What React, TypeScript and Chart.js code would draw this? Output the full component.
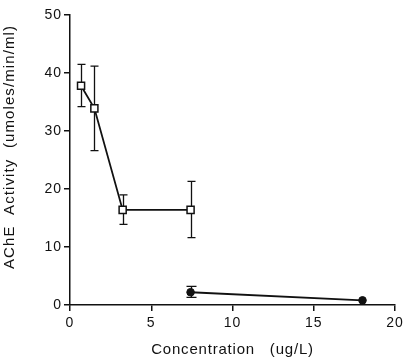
import React, { useEffect, useRef } from "react";
import { Chart, registerables } from "chart.js";

Chart.register(...registerables);

const xTicks = [0, 5, 10, 15, 20];
const yTicks = [0, 10, 20, 30, 40, 50];

const squareX = [0.68, 1.5, 3.24, 7.42];
const squareY = [37.8, 33.9, 16.4, 16.4];
const squareLow = [34.2, 26.6, 13.9, 11.6];
const squareHigh = [41.5, 41.2, 19.0, 21.3];

const circleX = [7.42, 18.0];
const circleY = [2.2, 0.8];
const circleLow = [1.3, null];
const circleHigh = [3.2, null];

const xTitle = "Concentration   (ug/L)";
const yTitle = "AChE  Activity  (umoles/min/ml)";

const FONT = "'Liberation Sans', Arial, Helvetica, sans-serif";

const errorBarPlugin = {
  id: "errorBars",
  beforeDraw(chart: any) {
    chart.ctx.letterSpacing = "1px";
  },
  beforeDatasetsDraw(chart: any) {
    const ctx = chart.ctx;
    const xs = chart.scales.x;
    const ys = chart.scales.y;
    chart.data.datasets.forEach((ds: any) => {
      const lows = ds.errLow || [];
      const highs = ds.errHigh || [];
      ds.data.forEach((p: any, i: number) => {
        const lo = lows[i];
        const hi = highs[i];
        if (lo == null || hi == null) return;
        const px = Math.round(xs.getPixelForValue(p.x)) + 0.5;
        const y1 = ys.getPixelForValue(lo);
        const y2 = ys.getPixelForValue(hi);
        const cap = ds.capWidth || 4;
        ctx.save();
        ctx.strokeStyle = "#111";
        ctx.lineWidth = 1.3;
        ctx.beginPath();
        ctx.moveTo(px, y1);
        ctx.lineTo(px, y2);
        ctx.moveTo(px - cap, y1);
        ctx.lineTo(px + cap, y1);
        ctx.moveTo(px - cap, y2);
        ctx.lineTo(px + cap, y2);
        ctx.stroke();
        ctx.restore();
      });
    });
  },
  afterDraw(chart: any) {
    const ctx = chart.ctx;
    const area = chart.chartArea;
    ctx.save();
    ctx.fillStyle = "#111";
    ctx.font = `15px ${FONT}`;
    ctx.letterSpacing = "0.8px";
    ctx.textAlign = "center";
    ctx.textBaseline = "middle";
    ctx.fillText(xTitle, (area.left + area.right) / 2, 350);
    ctx.letterSpacing = "1.1px";
    ctx.translate(10, 147);
    ctx.rotate(-Math.PI / 2);
    ctx.fillText(yTitle, 0, 0);
    ctx.restore();
  },
};

export default function App() {
  const ref = useRef<HTMLCanvasElement>(null);
  useEffect(() => {
    if (!ref.current) return;
    const chart = new Chart(ref.current, {
      type: "scatter",
      data: {
        datasets: [
          {
            label: "open",
            data: squareX.map((x, i) => ({ x, y: squareY[i] })),
            showLine: true,
            borderColor: "#111",
            borderWidth: 1.8,
            pointStyle: "rect",
            pointRadius: 5,
            pointBackgroundColor: "#fff",
            pointBorderColor: "#111",
            pointBorderWidth: 1.5,
            errLow: squareLow,
            errHigh: squareHigh,
            capWidth: 4,
          } as any,
          {
            label: "filled",
            data: circleX.map((x, i) => ({ x, y: circleY[i] })),
            showLine: true,
            borderColor: "#111",
            borderWidth: 1.8,
            pointStyle: "circle",
            pointRadius: 3.8,
            pointBackgroundColor: "#111",
            pointBorderColor: "#111",
            pointBorderWidth: 1,
            errLow: circleLow,
            errHigh: circleHigh,
            capWidth: 5,
          } as any,
        ],
      },
      options: {
        animation: false,
        responsive: false,
        layout: { padding: { top: 15, right: 9, left: 0, bottom: 0 } },
        plugins: {
          legend: { display: false },
          tooltip: { enabled: false },
        },
        scales: {
          x: {
            type: "linear",
            min: xTicks[0],
            max: xTicks[xTicks.length - 1],
            afterBuildTicks: (axis: any) => {
              axis.ticks = xTicks.map((v) => ({ value: v }));
            },
            afterFit: (axis: any) => {
              axis.height = 56;
              axis.paddingLeft = 0;
              axis.paddingRight = 0;
            },
            grid: {
              drawOnChartArea: false,
              drawTicks: true,
              tickLength: 6,
              color: "#111",
              lineWidth: 1.5,
            },
            border: { display: true, color: "#111", width: 1.5 },
            ticks: {
              color: "#111",
              padding: 4,
              maxRotation: 0,
              font: { family: FONT, size: 14 },
            },
          },
          y: {
            type: "linear",
            min: yTicks[0],
            max: yTicks[yTicks.length - 1],
            afterBuildTicks: (axis: any) => {
              axis.ticks = yTicks.map((v) => ({ value: v }));
            },
            afterFit: (axis: any) => {
              axis.width = 70;
              axis.paddingTop = 0;
              axis.paddingBottom = 0;
            },
            grid: {
              drawOnChartArea: false,
              drawTicks: true,
              tickLength: 6,
              color: "#111",
              lineWidth: 1.5,
            },
            border: { display: true, color: "#111", width: 1.5 },
            ticks: {
              color: "#111",
              padding: 2,
              font: { family: FONT, size: 14 },
            },
          },
        },
      },
      plugins: [errorBarPlugin],
    });
    return () => chart.destroy();
  }, []);
  return (
    <div style={{ position: "absolute", left: 0, top: 0, width: 404, height: 361, background: "#fff" }}>
      <canvas ref={ref} width={404} height={361} style={{ width: 404, height: 361 }} />
    </div>
  );
}
